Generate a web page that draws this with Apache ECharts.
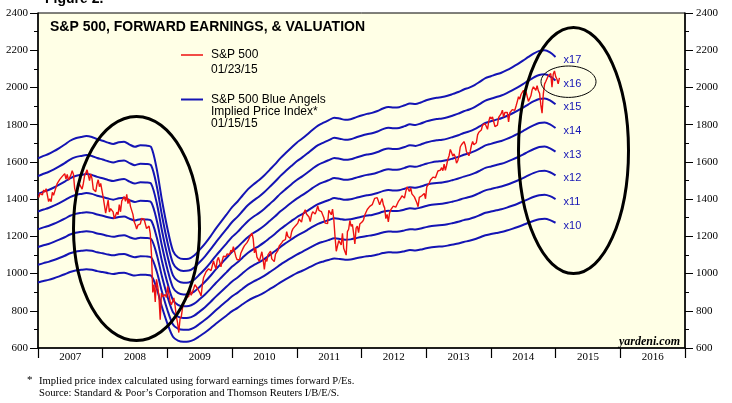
<!DOCTYPE html>
<html><head><meta charset="utf-8">
<script src="https://cdn.jsdelivr.net/npm/echarts@6/dist/echarts.min.js"></script>
<style>html,body{margin:0;padding:0;background:#fff;}#c{width:732px;height:403px;}</style>
</head><body><div id="c"></div>
<script>
// ---- DATA ----
const years = ['2007','2008','2009','2010','2011','2012','2013','2014','2015','2016'];
const yTicks = [600,800,1000,1200,1400,1600,1800,2000,2200,2400];
const multiples = [10,11,12,13,14,15,16,17];

// S&P 500 weekly closes (Fridays), starting 2007-01-05
const sp2007 = [1409,1431,1431,1423,1449,1438,1456,1451,1387,1402,1386,1437,1421,1443,1453,1485,1495,1506,1505,1522,1515,1537,1507,1533,1502,1503,1530,1553,1534,1458,1433,1453,1445,1479,1474,1454,1484,1525,1527,1557,1562,1500,1535,1509,1453,1458,1440,1481,1504,1467,1484,1478];
const sp2008 = [1411,1401,1325,1330,1395,1331,1349,1353,1331,1294,1288,1330,1316,1370,1332,1390,1397,1413,1388,1425,1376,1400,1361,1360,1318,1278,1262,1239,1260,1257,1267,1297,1299,1292,1283,1242,1252,1255,1213,1099,899,940,848,969,931,873,752,896,876,879,888,872];
const sp2009 = [931,890,850,832,826,869,827,770,735,683,757,769,816,842,857,869,866,877,929,883,888,919,940,946,921,918,896,880,940,979,987,1010,1004,1026,1029,1016,1042,1068,1044,1025,1072,1087,1080,1036,1069,1093,1092,1091,1106,1102,1102,1126];
const sp2010 = [1115,1144,1136,1092,1074,1066,1075,1109,1105,1138,1150,1159,1166,1178,1194,1192,1217,1187,1111,1136,1088,1089,1065,1092,1117,1076,1022,1078,1065,1102,1101,1121,1079,1071,1064,1104,1109,1125,1148,1146,1165,1176,1183,1183,1225,1199,1199,1189,1224,1240,1243,1256,1258];
const sp2011 = [1271,1293,1283,1276,1311,1329,1343,1320,1321,1304,1279,1314,1332,1328,1320,1337,1364,1340,1338,1333,1331,1300,1271,1272,1268,1340,1344,1316,1346,1292,1199,1120,1124,1177,1174,1154,1216,1136,1131,1099,1225,1238,1285,1253,1264,1216,1159,1244,1255,1220,1266,1258];
const sp2012 = [1278,1289,1315,1316,1344,1343,1361,1366,1370,1371,1404,1397,1408,1398,1370,1378,1403,1369,1353,1295,1318,1278,1326,1343,1335,1362,1354,1357,1363,1386,1391,1405,1418,1411,1406,1438,1466,1460,1441,1461,1428,1433,1412,1414,1380,1359,1409,1416,1418,1413,1430,1402];
const sp2013 = [1466,1472,1486,1503,1513,1518,1520,1515,1518,1551,1561,1556,1569,1553,1588,1555,1582,1614,1633,1667,1650,1631,1643,1626,1593,1606,1632,1680,1692,1691,1709,1691,1655,1664,1633,1655,1688,1710,1692,1690,1703,1745,1759,1762,1771,1798,1805,1806,1805,1775,1818,1842];
const sp2014 = [1831,1842,1838,1790,1783,1797,1839,1836,1859,1878,1841,1866,1857,1865,1815,1864,1863,1881,1878,1877,1900,1924,1950,1937,1962,1961,1985,1967,1978,1978,1925,1931,1955,1988,2003,2007,1985,2010,1982,1968,1906,1862,1964,2018,2032,2039,2063,2068,2075,2002,2071,2089];
const sp2015 = [2058,2044,2019,2051];

// Forward earnings (monthly, first of month), starting 2007-01
const fwdEps = [
  95.2,96.0,96.6,97.5,98.5,99.6,100.8,101.6,102.0,102.3,102.0,101.3,
  100.8,100.2,99.8,100.3,100.5,99.6,98.9,99.4,99.3,98.8,92.0,82.0,
  73.0,66.0,64.0,63.4,63.5,64.5,66.3,68.3,70.6,73.0,75.3,77.5,
  79.8,81.6,83.5,85.5,87.0,88.3,89.8,91.6,93.4,95.3,97.0,98.6,
  100.2,101.5,102.8,104.3,105.6,106.5,107.3,108.1,107.8,107.4,107.6,108.2,
  108.8,109.3,109.6,110.2,111.0,111.5,111.3,111.4,112.0,112.6,112.4,112.9,
  113.6,114.1,114.4,114.6,115.0,115.6,116.2,117.0,117.6,118.4,119.5,120.6,
  121.2,121.8,122.3,123.1,124.0,125.0,126.1,127.3,128.4,129.2,129.4,128.7,
  127.3
];

// ---- BUILD ----
const DAY = 86400000;
const spStart = Date.UTC(2007,0,5);
const spAll = [].concat(sp2007,sp2008,sp2009,sp2010,sp2011,sp2012,sp2013,sp2014,sp2015);
const spData = spAll.map((v,i)=>[spStart + i*7*DAY, v]);
const epsDates = fwdEps.map((e,i)=>Date.UTC(2007,i,1));

const RED = '#EE1111';
const BLUE = '#1414B4';
const serif = 'Liberation Serif';
const sans = 'Liberation Sans';

const blueSeries = multiples.map(k=>({
  type:'line', name:'x'+k, xAxisIndex:0, yAxisIndex:0,
  data: fwdEps.map((e,i)=>[epsDates[i], +(e*k).toFixed(1)]),
  showSymbol:false, smooth:0.3, z:2,
  lineStyle:{color:BLUE, width:2},
  endLabel:{show:true, formatter:'x'+k, color:BLUE, fontFamily:sans, fontSize:11, distance:8, offset:[0,3]}
}));

const yLabel = {fontFamily:serif, fontSize:11, color:'#000', formatter:(v)=>String(v)};

const chart = echarts.init(document.getElementById('c'), null, {renderer:'canvas'});
chart.setOption({
  animation:false,
  backgroundColor:'#ffffff',
  title:{text:'S&P 500, FORWARD EARNINGS, & VALUATION', left:45, top:15,
    textStyle:{fontFamily:sans, fontSize:14, fontWeight:'bold', color:'#000'}},
  grid:{left:38, right:47, top:13, bottom:55, show:true, backgroundColor:'#FFFFE6', borderColor:'#000', borderWidth:1},
  xAxis:[
    {type:'time', min:Date.UTC(2007,0,1), max:Date.UTC(2017,0,1), show:false},
    {type:'category', data:years, position:'bottom', boundaryGap:true,
      axisLine:{show:true, lineStyle:{color:'#000', width:1.5}},
      axisTick:{show:true, length:10, lineStyle:{color:'#000', width:1.2}},
      axisLabel:{fontFamily:serif, fontSize:11, color:'#000', margin:4},
      splitLine:{show:false}}
  ],
  yAxis:[
    {type:'value', min:yTicks[0], max:yTicks[yTicks.length-1], interval:200, position:'left',
      axisLine:{show:true, lineStyle:{color:'#000', width:1.5}},
      axisTick:{show:true, length:8, lineStyle:{color:'#000'}},
      minorTick:{show:true, splitNumber:2, length:4, lineStyle:{color:'#000'}},
      axisLabel:Object.assign({margin:10}, yLabel),
      splitLine:{show:false}},
    {type:'value', min:yTicks[0], max:yTicks[yTicks.length-1], interval:200, position:'right',
      axisLine:{show:true, lineStyle:{color:'#000', width:1.5}},
      axisTick:{show:true, length:8, lineStyle:{color:'#000'}},
      minorTick:{show:true, splitNumber:2, length:4, lineStyle:{color:'#000'}},
      axisLabel:Object.assign({margin:11}, yLabel),
      splitLine:{show:false}}
  ],
  series: blueSeries.concat([{
    type:'line', name:'S&P 500', xAxisIndex:0, yAxisIndex:0, data:spData,
    showSymbol:false, z:5, lineStyle:{color:RED, width:1.4}
  }]),
  graphic:[
    {type:'text', left:45, top:-8, style:{text:'Figure 2.', fontFamily:sans, fontSize:14, fontWeight:'bold', fill:'#000'}},
    // legend
    {type:'line', shape:{x1:181,y1:55,x2:203,y2:55}, style:{stroke:RED, lineWidth:1.5}, z:10},
    {type:'text', x:211, y:55, style:{text:'S&P 500', fontFamily:sans, fontSize:12, fill:'#000', verticalAlign:'middle'}, z:10},
    {type:'text', x:211, y:70, style:{text:'01/23/15', fontFamily:sans, fontSize:12, fill:'#000', verticalAlign:'middle'}, z:10},
    {type:'line', shape:{x1:181,y1:99.5,x2:203,y2:99.5}, style:{stroke:BLUE, lineWidth:2}, z:10},
    {type:'text', x:211, y:99.5, style:{text:'S&P 500 Blue Angels', fontFamily:sans, fontSize:12, fill:'#000', verticalAlign:'middle'}, z:10},
    {type:'text', x:211, y:111.5, style:{text:'Implied Price Index*', fontFamily:sans, fontSize:12, fill:'#000', verticalAlign:'middle'}, z:10},
    {type:'text', x:211, y:123.5, style:{text:'01/15/15', fontFamily:sans, fontSize:12, fill:'#000', verticalAlign:'middle'}, z:10},
    // annotations
    {type:'ellipse', shape:{cx:136.5, cy:228.5, rx:63, ry:112}, style:{fill:null, stroke:'#000', lineWidth:3}, z:20},
    {type:'ellipse', shape:{cx:573.5, cy:150.5, rx:55, ry:123}, style:{fill:null, stroke:'#000', lineWidth:3}, z:20},
    {type:'ellipse', shape:{cx:568.5, cy:81.7, rx:27.5, ry:15.7}, style:{fill:null, stroke:'#000', lineWidth:1}, z:20},
    {type:'text', x:680, y:342, style:{text:'yardeni.com', fontFamily:serif, fontSize:12, fontStyle:'italic', fontWeight:'bold', fill:'#000', align:'right', verticalAlign:'middle'}, z:10},
    // footnote
    {type:'text', x:27, y:380, style:{text:'*', fontFamily:serif, fontSize:11, fill:'#000', verticalAlign:'middle'}},
    {type:'text', x:39, y:381, style:{text:'Implied price index calculated using forward earnings times forward P/Es.', fontFamily:serif, fontSize:10.6, fill:'#000', verticalAlign:'middle'}},
    {type:'text', x:39, y:393, style:{text:'Source: Standard & Poor\u2019s Corporation and Thomson Reuters I/B/E/S.', fontFamily:serif, fontSize:10.6, fill:'#000', verticalAlign:'middle'}}
  ]
});
</script></body></html>
